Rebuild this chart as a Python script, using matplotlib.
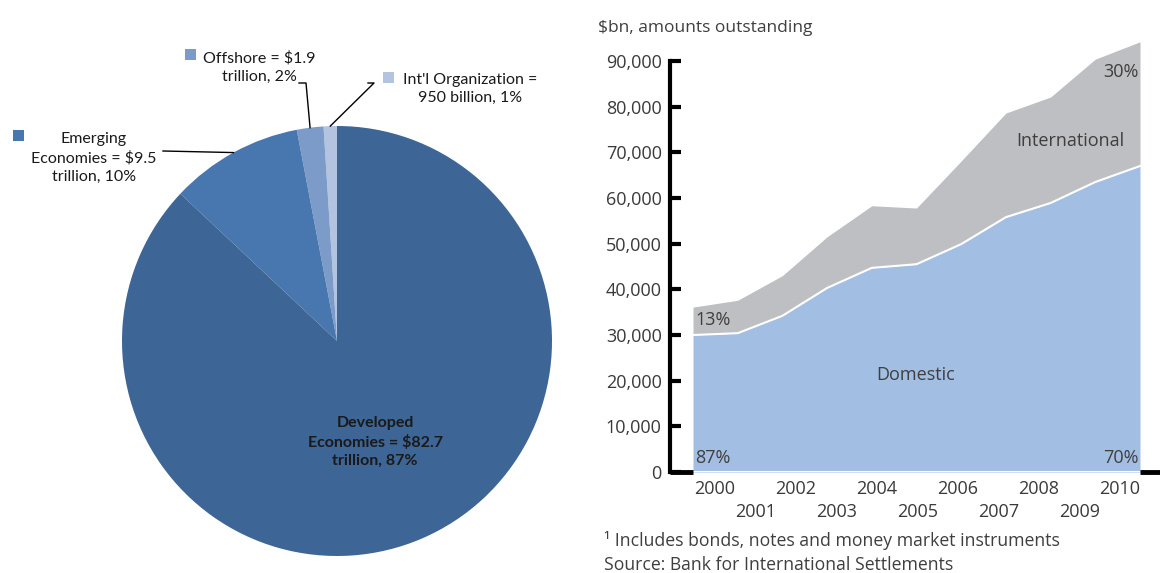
import numpy as np
import matplotlib
matplotlib.use("Agg")
import matplotlib.pyplot as plt
from matplotlib.lines import Line2D
from matplotlib.patches import Rectangle

# ---- pie data (trillion USD) ----
pie_values = [0.95, 1.9, 9.5, 82.7]
pie_labels = [
    "Int'l Organization =\n950 billion, 1%",
    "Offshore = $1.9\ntrillion, 2%",
    "Emerging\nEconomies = $9.5\ntrillion, 10%",
    "Developed\nEconomies = $82.7\ntrillion, 87%",
]
pie_colors = ['#b4c4e0', '#7c9bc8', '#4876ae', '#3d6595']

# ---- area chart data ($bn, amounts outstanding) ----
years = list(range(2000, 2011))
domestic = [30000, 30400, 34200, 40300, 44700, 45500, 49900, 55800, 58900, 63500, 67000]
international = [6100, 7200, 8800, 11200, 13600, 12300, 18200, 22800, 23200, 26900, 27200]
y_ticks = list(range(0, 90001, 10000))

W, H = 1160, 573


def fig_xy(x, y):
    # pixel position -> figure fraction
    return x / W, 1 - y / H


plt.rcParams['font.family'] = ['Open Sans', 'DejaVu Sans']
pie_font = ['Lato', 'DejaVu Sans']

fig = plt.figure(figsize=(W / 100, H / 100), dpi=100)

# ---------------- pie ----------------
ax1 = fig.add_axes([122 / W, 1 - 556 / H, 430 / W, 430 / H])
wedges, _ = ax1.pie(pie_values, colors=pie_colors, startangle=90,
                    counterclock=True, radius=1, wedgeprops=dict(linewidth=0))
for w in wedges:
    w.set_clip_on(False)
ax1.set_xlim(-1, 1)
ax1.set_ylim(-1, 1)
ax1.axis('off')


def edge_point(w):
    th = np.deg2rad((w.theta1 + w.theta2) / 2)
    disp = ax1.transData.transform((np.cos(th), np.sin(th)))
    return fig.transFigure.inverted().transform(disp)


# label layout: (text centre px, square px, leader start px list)
label_layout = {
    0: ((470, 89), (383, 72), [(368, 83), (374, 83)]),
    1: ((259, 67), (185, 49), [(299, 83), (306, 83)]),
    2: ((94, 158), (13, 130), [(163, 151)]),
}
for i, ((tx, ty), (sx, sy), lead) in label_layout.items():
    fig.text(*fig_xy(tx, ty), pie_labels[i], ha='center', va='center',
             fontsize=11.5, family=pie_font, color='#1a1a1a', linespacing=1.4)
    fig.add_artist(Rectangle(fig_xy(sx, sy + 11), 11 / W, 11 / H,
                             transform=fig.transFigure, color=pie_colors[i], lw=0))
    pts = [fig_xy(*p) for p in lead] + [tuple(edge_point(wedges[i]))]
    xs, ys = zip(*pts)
    fig.add_artist(Line2D(xs, ys, transform=fig.transFigure, color='black', lw=1))

fig.text(*fig_xy(375, 442), pie_labels[3], ha='center', va='center',
         fontsize=11.5, family=pie_font, fontweight='bold', color='#1a1a1a',
         linespacing=1.4)

# ---------------- stacked area ----------------
x_lo = 2000 - 23 / 44.7
x_hi = 2010 + 20 / 44.7
ax2 = fig.add_axes([670 / W, 1 - 472 / H, 490 / W, (472 - 29) / H])
total = np.array(domestic) + np.array(international)
ax2.fill_between(years, 0, domestic, color='#a3bee3', lw=0, zorder=3)
ax2.fill_between(years, domestic, total, color='#bebfc2', lw=0, zorder=3)
ax2.plot(years, domestic, color='white', lw=1.5, zorder=4)
ax2.hlines(0, years[0], years[-1], color='white', lw=1.5, zorder=4)
ax2.hlines([0, 0], [x_lo, years[-1]], [years[0], x_hi], color='black', lw=3.5,
           zorder=4, clip_on=False)

ax2.set_xlim(x_lo, x_hi)
ax2.set_ylim(0, 97000)
for s in ['top', 'right', 'bottom']:
    ax2.spines[s].set_visible(False)
ax2.spines['left'].set_linewidth(3)
ax2.spines['left'].set_bounds(0, 90000)

ax2.set_yticks(y_ticks, [f'{v:,}' for v in y_ticks])
ax2.tick_params(axis='y', direction='in', length=8, width=3, pad=6,
                labelsize=13, labelcolor='#3a3a3a')

tick_pos = np.linspace(2000.49, 2009.55, len(years))
ax2.set_xticks(tick_pos[::2], [str(y) for y in years[::2]])
ax2.set_xticks(tick_pos[1::2], [str(y) for y in years[1::2]], minor=True)
ax2.tick_params(axis='x', which='both', length=0, labelsize=13, labelcolor='#3a3a3a')
ax2.tick_params(axis='x', which='major', pad=6)
ax2.tick_params(axis='x', which='minor', pad=22)

txt = dict(fontsize=13, color='#3f3f3f', va='center', zorder=5)
ax2.text(2000.05, 33300, '13%', ha='left', **txt)
ax2.text(2000.05, 3100, '87%', ha='left', **txt)
ax2.text(2009.97, 3100, '70%', ha='right', **txt)
ax2.text(2009.97, 87600, '30%', ha='right', **txt)
ax2.text(2008.43, 72500, 'International', ha='center', **txt)
ax2.text(2004.97, 21200, 'Domestic', ha='center', **txt)

fig.text(*fig_xy(598, 28), '$bn, amounts outstanding', fontsize=12.5,
         color='#3f3f3f', va='center')
fig.text(*fig_xy(604, 540), '\u00b9 Includes bonds, notes and money market instruments',
         fontsize=12.7, color='#3f3f3f', va='center')
fig.text(*fig_xy(604, 565), 'Source: Bank for International Settlements',
         fontsize=12.7, color='#3f3f3f', va='center')

fig.savefig('out.png', dpi=100)
